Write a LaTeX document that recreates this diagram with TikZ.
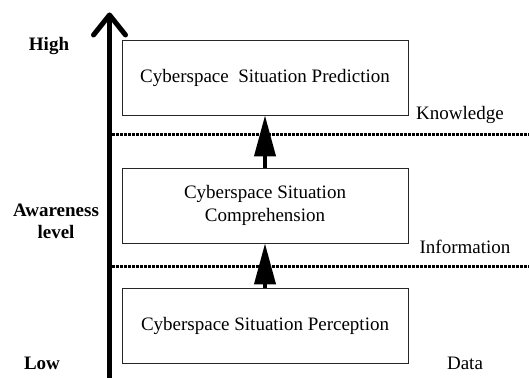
\documentclass[tikz,border=0pt]{standalone}
\usepackage{fontspec}
\setmainfont{Liberation Serif}
\usetikzlibrary{arrows.meta}
\begin{document}
\begin{tikzpicture}[x=1pt,y=-1pt,
  box/.style={draw=black!85, line width=0.8pt, minimum width=286pt, minimum height=75pt, inner sep=0pt, align=center, font=\fontsize{19}{23}\selectfont},
  lbl/.style={font=\fontsize{19}{22}\selectfont, align=center, inner sep=0pt},
  blbl/.style={font=\fontsize{19}{22}\selectfont\bfseries, align=center, inner sep=0pt},
  level/.style={line width=3pt, dash pattern=on 2.5pt off 1.5pt},
  up/.style={line width=4pt, -{Triangle[length=41pt,width=21pt]}},
  axis/.style={line width=5pt, line cap=round, line join=round}]
\useasboundingbox (0,0) rectangle (529,377);
% axis
\coordinate (axb) at (109.5,380);
\coordinate (axt) at (109.5,15);
\coordinate (axl) at (93.5,35);
\coordinate (axr) at (125.5,35);
\draw[line width=5pt] (axb) -- (axt);
\draw[axis] (axl) -- (axt) -- (axr);
% boxes
\node[box] (pred) at (265,77.5) {Cyberspace\ \ Situation Prediction};
\node[box] (comp) at (265,205.5) {Cyberspace Situation\\Comprehension};
\node[box] (perc) at (265,325.5) {Cyberspace Situation Perception};
% level lines
\coordinate (k1) at (112,134);
\coordinate (k2) at (529,134);
\coordinate (i1) at (112,266);
\coordinate (i2) at (529,266);
\draw[level] (k1) -- (k2);
\draw[level] (i1) -- (i2);
% arrows
\draw[up] (comp.north) -- (pred.south);
\draw[up] (perc.north) -- (comp.south);
% labels
\node[blbl] (high) at (49,46) {High};
\node[blbl] (aw) at (56,221) {Awareness\\level};
\node[blbl] (low) at (42,363) {Low};
\node[lbl] (kn) at (460,115) {Knowledge};
\node[lbl] (inf) at (465,247) {Information};
\node[lbl] (dat) at (465,363) {Data};
\end{tikzpicture}
\end{document}
